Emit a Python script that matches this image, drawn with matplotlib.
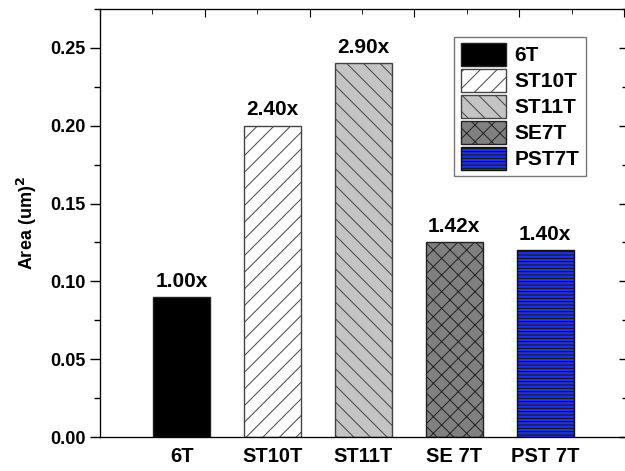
import matplotlib.pyplot as plt
import numpy as np
from matplotlib.ticker import MultipleLocator, FormatStrFormatter

plt.rcParams['font.family'] = ['Liberation Sans', 'DejaVu Sans']
plt.rcParams['font.weight'] = 'bold'
plt.rcParams['hatch.linewidth'] = 0.7

cells = ['6T', 'ST10T', 'ST11T', 'SE 7T', 'PST 7T']
legend_names = ['6T', 'ST10T', 'ST11T', 'SE7T', 'PST7T']
area = [0.09, 0.20, 0.24, 0.125, 0.12]
ratio = ['1.00x', '2.40x', '2.90x', '1.42x', '1.40x']

colors = ['black', 'white', '#c4c4c4', '#808080', '#1f30e6']
hatches = ['', '//', '\\\\', 'xx', '-----']
edges = ['#222222', '#444444', '#444444', '#222222', '#111111']

fig = plt.figure(figsize=(6.25, 4.71), dpi=100)
ax = fig.add_axes([0.16, 0.072, 0.843, 0.909])

x = np.arange(1, len(cells) + 1)
for i in range(len(cells)):
    ax.bar(x[i], area[i], width=0.63, color=colors[i], hatch=hatches[i],
           edgecolor=edges[i], linewidth=1.0, label=legend_names[i])
    ax.text(x[i], area[i] + 0.004, ratio[i], ha='center', va='bottom',
            fontsize=15, fontweight='bold')

ax.set_xlim(0.1, 5.9)
ax.set_ylim(0, 0.275)
ax.set_xticks(x)
ax.set_xticklabels(cells, fontsize=14.5, fontweight='bold')
ax.tick_params(axis='x', length=0, pad=7)

ax.yaxis.set_major_locator(MultipleLocator(0.05))
ax.yaxis.set_minor_locator(MultipleLocator(0.025))
ax.yaxis.set_major_formatter(FormatStrFormatter('%.2f'))
ax.tick_params(axis='y', which='major', direction='out', length=7, width=1,
               labelsize=13)
ax.tick_params(axis='y', which='minor', direction='out', length=4, width=1)
for t in ax.get_yticklabels():
    t.set_fontweight('bold')
ax.set_ylabel('Area (um)$^\\mathbf{2}$', fontsize=13, fontweight='bold', labelpad=8)

leg = ax.legend(loc='upper right', bbox_to_anchor=(0.93, 0.945), fontsize=15,
                frameon=True, fancybox=False, edgecolor='#555555',
                handlelength=2.2, handleheight=1.3, handletextpad=0.4,
                labelspacing=0.16, borderpad=0.3, borderaxespad=0.2)
leg.get_frame().set_linewidth(1.0)
for t in leg.get_texts():
    t.set_fontweight('bold')

# right axis (spine just off the picture), ticks inwards
ax2 = ax.twinx()
ax2.set_ylim(ax.get_ylim())
ax2.yaxis.set_major_locator(MultipleLocator(0.05))
ax2.yaxis.set_minor_locator(MultipleLocator(0.025))
ax2.tick_params(which='major', direction='in', length=6, width=1, labelright=False)
ax2.tick_params(which='minor', direction='in', length=3.5, width=1)

# top axis, ticks inwards
ax3 = ax.twiny()
ax3.set_xlim(ax.get_xlim())
ax3.set_xticks(np.arange(0.1, 5.9, 1.154))
ax3.set_xticks(np.arange(0.677, 5.9, 1.154), minor=True)
ax3.tick_params(which='major', direction='in', length=6, labeltop=False)
ax3.tick_params(which='minor', direction='in', length=3.5)

fig.savefig('out.png', dpi=100)
